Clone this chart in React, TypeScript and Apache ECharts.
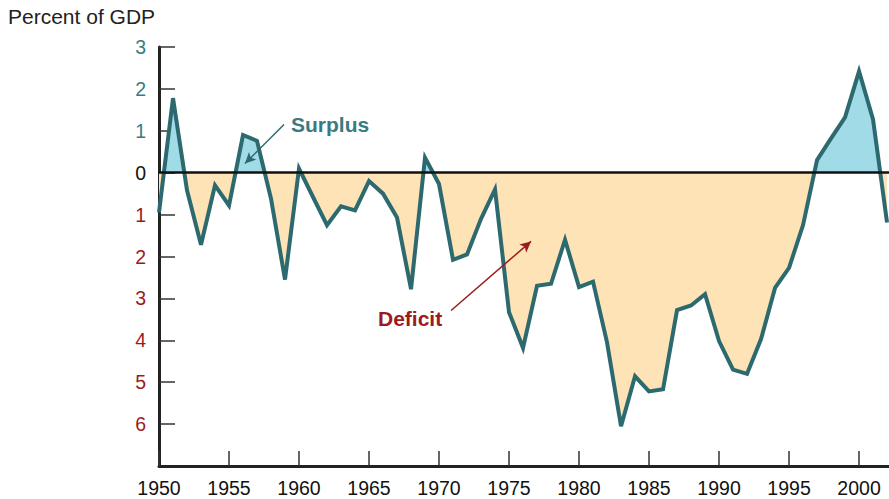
import React, { useEffect, useRef } from "react";
import * as echarts from "echarts";

const years = [
  1950, 1951, 1952, 1953, 1954, 1955, 1956, 1957, 1958, 1959,
  1960, 1961, 1962, 1963, 1964, 1965, 1966, 1967, 1968, 1969,
  1970, 1971, 1972, 1973, 1974, 1975, 1976, 1977, 1978, 1979,
  1980, 1981, 1982, 1983, 1984, 1985, 1986, 1987, 1988, 1989,
  1990, 1991, 1992, 1993, 1994, 1995, 1996, 1997, 1998, 1999,
  2000, 2001, 2002,
];

const balance = [
  -0.95, 1.78, -0.42, -1.72, -0.3, -0.78, 0.9, 0.76, -0.62, -2.55,
  0.1, -0.58, -1.25, -0.8, -0.9, -0.2, -0.5, -1.07, -2.78, 0.36,
  -0.27, -2.08, -1.95, -1.1, -0.4, -3.33, -4.18, -2.7, -2.65, -1.6,
  -2.73, -2.6, -4.05, -6.05, -4.86, -5.22, -5.17, -3.28, -3.17, -2.9,
  -4.02, -4.7, -4.8, -3.97, -2.75, -2.27, -1.25, 0.3, 0.82, 1.32,
  2.42, 1.27, -1.19,
];

const xTickLabels = [1950, 1955, 1960, 1965, 1970, 1975, 1980, 1985, 1990, 1995, 2000];
const yTickValues = [-6, -5, -4, -3, -2, -1, 0, 1, 2, 3];

const TEAL_LINE = "#2c6a70";
const TEAL_TEXT = "#3a7b81";
const RED_TEXT = "#9b1b20";
const BLUE_FILL = "#a1dbe8";
const ORANGE_FILL = "#fee3b6";

const W = 889;
const H = 499;
const GRID_LEFT = 159;
const GRID_TOP = 47;
const GRID_BOTTOM = 33;
const Y_MIN = -7;
const Y_MAX = 3;
const X_MIN = 1950;
const X_MAX = 2002.14;

export default function App() {
  const ref = useRef<HTMLDivElement>(null);

  useEffect(() => {
    document.body.style.margin = "0";
    if (!ref.current) return;
    const chart = echarts.init(ref.current, undefined, { renderer: "svg" });

    const plotH = H - GRID_TOP - GRID_BOTTOM;
    const zeroY = GRID_TOP + ((Y_MAX - 0) / (Y_MAX - Y_MIN)) * plotH;
    const split = zeroY / H;
    const areaGradient = new echarts.graphic.LinearGradient(
      0, 0, 0, H,
      [
        { offset: 0, color: BLUE_FILL },
        { offset: split, color: BLUE_FILL },
        { offset: split, color: ORANGE_FILL },
        { offset: 1, color: ORANGE_FILL },
      ],
      true
    );

    const data = years.map((y, i) => [y, balance[i]]);
    const font = "'Liberation Sans', Arial, sans-serif";

    chart.setOption({
      animation: false,
      grid: { left: GRID_LEFT, right: 0, top: GRID_TOP, bottom: GRID_BOTTOM, containLabel: false },
      xAxis: {
        type: "value",
        min: X_MIN,
        max: X_MAX,
        axisLine: { show: true, onZero: false, lineStyle: { color: "#222", width: 3 } },
        axisTick: {
          show: true,
          inside: true,
          length: 15,
          customValues: xTickLabels,
          lineStyle: { color: "#333", width: 1.5 },
        },
        axisLabel: {
          customValues: xTickLabels,
          margin: 12,
          fontSize: 19.5,
          color: "#111",
          fontFamily: font,
          formatter: (v: number) => String(v),
        },
        splitLine: { show: false },
      },
      yAxis: {
        type: "value",
        min: Y_MIN,
        max: Y_MAX,
        interval: 1,
        axisLine: { show: true, lineStyle: { color: "#222", width: 3 } },
        axisTick: {
          show: true,
          inside: true,
          length: 16,
          customValues: yTickValues,
          lineStyle: { color: "#333", width: 1.5 },
        },
        axisLabel: {
          customValues: yTickValues,
          margin: 13,
          fontSize: 19.5,
          fontFamily: font,
          formatter: (v: number) =>
            v > 0 ? `{p|${v}}` : v < 0 ? `{n|${-v}}` : `{z|0}`,
          rich: {
            p: { color: TEAL_TEXT, fontSize: 19.5, fontFamily: font },
            n: { color: RED_TEXT, fontSize: 19.5, fontFamily: font },
            z: { color: "#111", fontSize: 19.5, fontFamily: font },
          },
        },
        splitLine: { show: false },
      },
      series: [
        {
          type: "line",
          data,
          z: 2,
          symbol: "none",
          lineStyle: { width: 0, opacity: 0 },
          areaStyle: { origin: 0, color: areaGradient, opacity: 1 },
          silent: true,
          markLine: {
            silent: true,
            symbol: ["none", "none"],
            label: { show: false },
            lineStyle: { color: "#111", width: 2.5, type: "solid" },
            data: [{ yAxis: 0 }],
          },
        },
        {
          type: "line",
          data,
          z: 3,
          symbol: "none",
          lineStyle: { color: TEAL_LINE, width: 4, join: "miter", miterLimit: 10 },
          silent: true,
          markLine: {
            silent: true,
            symbol: ["none", "arrow"],
            symbolSize: [8, 11],
            label: { show: false },
            data: [
              [
                { coord: [1958.93, 1.15], lineStyle: { color: TEAL_LINE, width: 1.5, type: "solid" }, itemStyle: { color: TEAL_LINE } },
                { coord: [1956.14, 0.22] },
              ],
              [
                { coord: [1970.86, -3.29], lineStyle: { color: RED_TEXT, width: 1.5, type: "solid" }, itemStyle: { color: RED_TEXT } },
                { coord: [1976.57, -1.64] },
              ],
            ],
          },
        },
      ],
      graphic: [
        {
          type: "text",
          left: 8,
          top: 6,
          style: { text: "Percent of GDP", fontSize: 21, fill: "#222", fontFamily: font },
        },
        {
          type: "text",
          left: 291,
          top: 114,
          style: { text: "Surplus", fontSize: 21, fontWeight: "bold", fill: TEAL_TEXT, fontFamily: font },
        },
        {
          type: "text",
          left: 378,
          top: 308,
          style: { text: "Deficit", fontSize: 21, fontWeight: "bold", fill: RED_TEXT, fontFamily: font },
        },
      ],
    });

    return () => chart.dispose();
  }, []);

  return <div ref={ref} style={{ width: W, height: H }} />;
}
